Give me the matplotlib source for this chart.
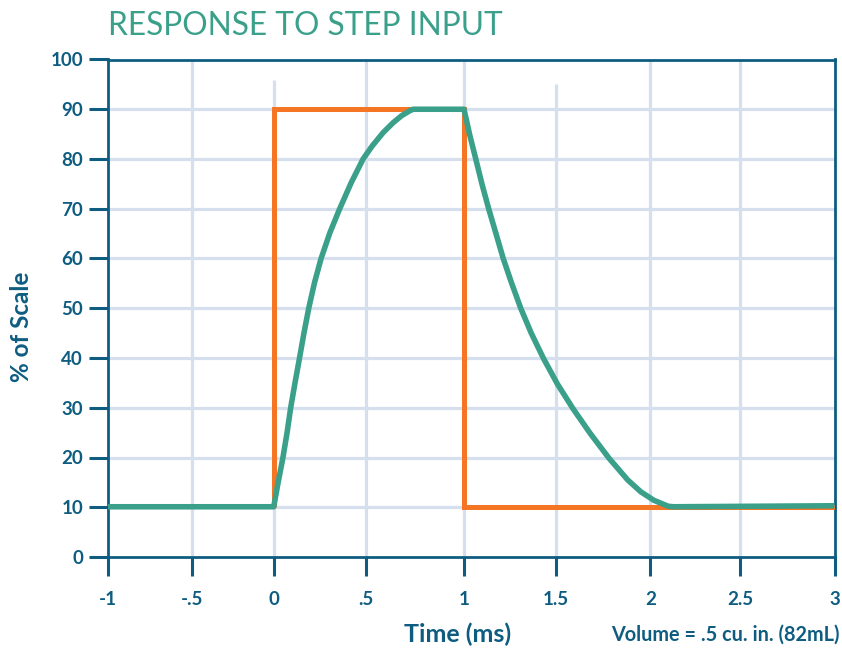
import numpy as np
import matplotlib
matplotlib.use("Agg")
import matplotlib.pyplot as plt

plt.rcParams['font.family'] = ['Lato', 'DejaVu Sans']

# ---------------- data ----------------
x_tick_values = [-1, -0.5, 0, 0.5, 1, 1.5, 2, 2.5, 3]
x_tick_labels = ['-1', '-.5', '0', '.5', '1', '1.5', '2', '2.5', '3']
y_tick_values = [0, 10, 20, 30, 40, 50, 60, 70, 80, 90, 100]

# step input (orange)
input_x = [0, 0, 1, 1, 3]
input_y = [10, 90, 90, 10, 10]

# transducer response (teal)
resp_x = [-1, 0, 0.023, 0.050, 0.072, 0.092, 0.115, 0.140, 0.164, 0.190, 0.221,
          0.257, 0.305, 0.358, 0.420, 0.485, 0.532, 0.588, 0.639, 0.682, 0.724, 0.741,
          1.0, 1.032, 1.064, 1.098, 1.134, 1.172, 1.213, 1.258, 1.308, 1.365,
          1.433, 1.508, 1.590, 1.680, 1.780, 1.880, 1.950, 2.020, 2.100, 2.130, 3]
resp_y = [10.1, 10.1, 14.8, 20, 24.9, 30, 34.9, 40, 45, 50, 55.1,
          60, 65.2, 70, 75.2, 80, 82.6, 85.3, 87.3, 88.7, 89.7, 90,
          90, 84.7, 80, 74.9, 70, 65.2, 60, 55.1, 50, 45,
          39.8, 34.7, 29.8, 24.9, 19.9, 15.5, 13.1, 11.4, 10.2, 10.1, 10.3]

# ---------------- style / layout ----------------
DARK = '#0E5D80'
TEAL = '#3AA08A'
ORANGE = '#F47524'
GRID = '#D5DFEE'

# the reference's x axis is drawn with uneven tick spacing (pixel positions)
TICK_PIX = np.array([108, 192, 274, 366, 464, 556, 650, 740, 834], float)
XV = np.array(x_tick_values, float)


def _fwd(v):
    v = np.asarray(v, float)
    out = np.interp(v, XV, TICK_PIX)
    s0 = (TICK_PIX[1] - TICK_PIX[0]) / (XV[1] - XV[0])
    s1 = (TICK_PIX[-1] - TICK_PIX[-2]) / (XV[-1] - XV[-2])
    out = np.where(v < XV[0], TICK_PIX[0] + (v - XV[0]) * s0, out)
    out = np.where(v > XV[-1], TICK_PIX[-1] + (v - XV[-1]) * s1, out)
    return out


def _inv(p):
    p = np.asarray(p, float)
    out = np.interp(p, TICK_PIX, XV)
    s0 = (XV[1] - XV[0]) / (TICK_PIX[1] - TICK_PIX[0])
    s1 = (XV[-1] - XV[-2]) / (TICK_PIX[-1] - TICK_PIX[-2])
    out = np.where(p < TICK_PIX[0], XV[0] + (p - TICK_PIX[0]) * s0, out)
    out = np.where(p > TICK_PIX[-1], XV[-1] + (p - TICK_PIX[-1]) * s1, out)
    return out


W, H = 842, 650
fig = plt.figure(figsize=(W / 100, H / 100), dpi=100)
ax = fig.add_axes([107.5 / W, (H - 557) / H, (834.5 - 107.5) / W, (557 - 59.5) / H])
ax.set_xscale('function', functions=(_fwd, _inv))
ax.set_xlim(-1, 3)
ax.set_ylim(0, 100)

# grid
ax.hlines(y_tick_values[1:-1], -1, 3, colors=GRID, linewidth=2.3, zorder=0)
vgrid_x = [-0.5, 0, 0.5, 1, 1.5, 2, 2.5]
vgrid_top = [100, 95.8, 100, 100, 95.0, 100, 100]
ax.vlines(vgrid_x, 0, vgrid_top, colors=GRID, linewidth=2.3, zorder=0)

# lines
ax.plot(input_x, input_y, color=ORANGE, linewidth=3.6, solid_joinstyle='miter',
        solid_capstyle='butt', zorder=3)
ax.plot(resp_x, resp_y, color=TEAL, linewidth=4.0, solid_joinstyle='round',
        solid_capstyle='butt', zorder=4)

# spines / ticks
for s in ax.spines.values():
    s.set_color(DARK)
    s.set_linewidth(2.0)

ax.set_xticks(x_tick_values)
ax.set_xticklabels(x_tick_labels)
ax.set_yticks(y_tick_values)
ax.set_yticklabels([str(v) for v in y_tick_values])
ax.tick_params(axis='both', direction='out', length=13.5, width=2.2, color=DARK,
               labelcolor=DARK, labelsize=13.5)
ax.tick_params(axis='y', pad=4)
ax.tick_params(axis='x', pad=11)
ax.xaxis.set_minor_locator(matplotlib.ticker.NullLocator())
for lab in ax.get_xticklabels() + ax.get_yticklabels():
    lab.set_fontweight('bold')

# texts
fig.text(108 / W, 1 - 35 / H, 'RESPONSE TO STEP INPUT', color=TEAL, fontsize=22.8,
         ha='left', va='baseline', fontweight='normal')
fig.text(22 / W, 1 - 327 / H, '% of Scale', color=DARK, fontsize=17.5,
         fontweight='bold', rotation=90, ha='center', va='center')
fig.text(458 / W, 1 - 634 / H, 'Time (ms)', color=DARK, fontsize=18,
         fontweight='bold', ha='center', va='center')
fig.text(840 / W, 1 - 635 / H, 'Volume = .5 cu. in. (82mL)', color=DARK, fontsize=14.3,
         fontweight='bold', ha='right', va='center')

fig.savefig('out.png', dpi=100)
